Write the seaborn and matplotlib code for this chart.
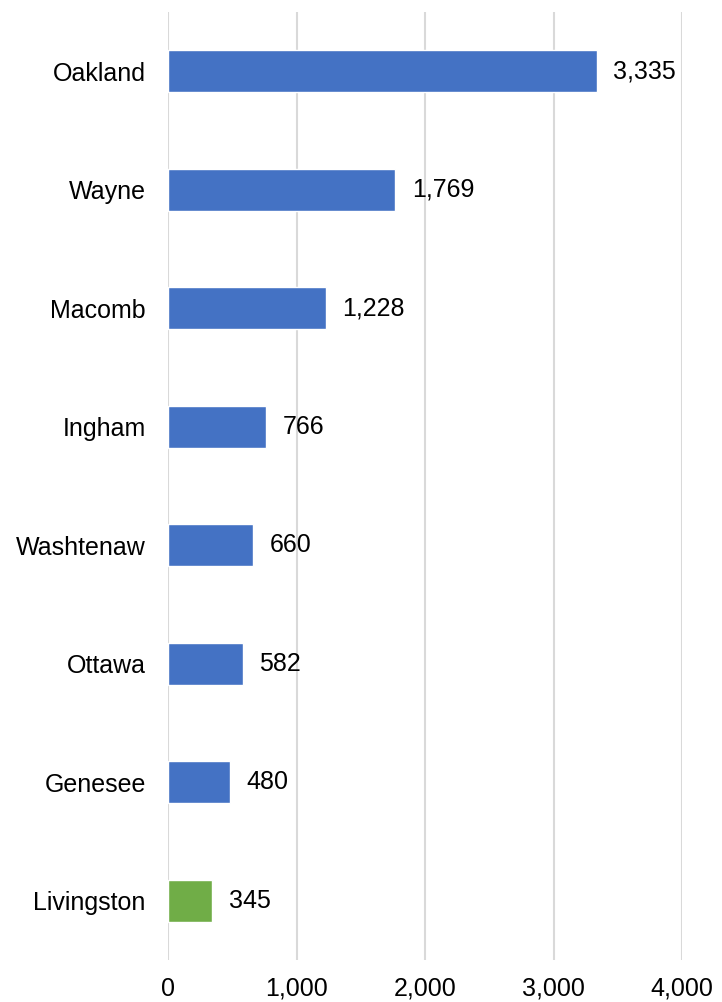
import matplotlib as mpl
from matplotlib import pyplot as plt
import seaborn as sns
import pandas as pd

counties = ['Oakland', 'Wayne', 'Macomb', 'Ingham', 'Washtenaw', 'Ottawa', 'Genesee', 'Livingston']
counts = [3335, 1769, 1228, 766, 660, 582, 480, 345]
bar_colors = ['#4472C4'] * 7 + ['#70AD47']

sns.set_theme(style='white')
plt.rcParams['font.family'] = ['Liberation Sans', 'DejaVu Sans']

df = pd.DataFrame({'county': counties, 'count': counts})

fig = plt.figure(figsize=(7.22, 10.02), dpi=100)
ax = fig.add_axes([168 / 722, 1 - 960 / 1002, (682 - 168) / 722, (960 - 12) / 1002])

sns.barplot(data=df, y='county', x='count', hue='county', palette=bar_colors,
            legend=False, width=0.355, saturation=1, ax=ax)

ax.set_xlim(0, 4000)
ax.set_ylim(7.5, -0.5)
ax.set_xticks([0, 1000, 2000, 3000, 4000])
ax.xaxis.set_major_formatter(mpl.ticker.FuncFormatter(lambda v, p: f"{int(v):,}"))
ax.grid(axis='x', color='#D9D9D9', linewidth=1.5)
ax.set_axisbelow(True)
for s in ax.spines.values():
    s.set_visible(False)
ax.set_xlabel('')
ax.set_ylabel('')
ax.tick_params(axis='both', length=0, labelsize=18, colors='black')
ax.tick_params(axis='y', pad=16)
ax.tick_params(axis='x', pad=12)

for c in ax.containers:
    ax.bar_label(c, labels=[f"{v:,.0f}" for v in c.datavalues], padding=12,
                 fontsize=18, color='black')

fig.savefig('out.png', dpi=100)
